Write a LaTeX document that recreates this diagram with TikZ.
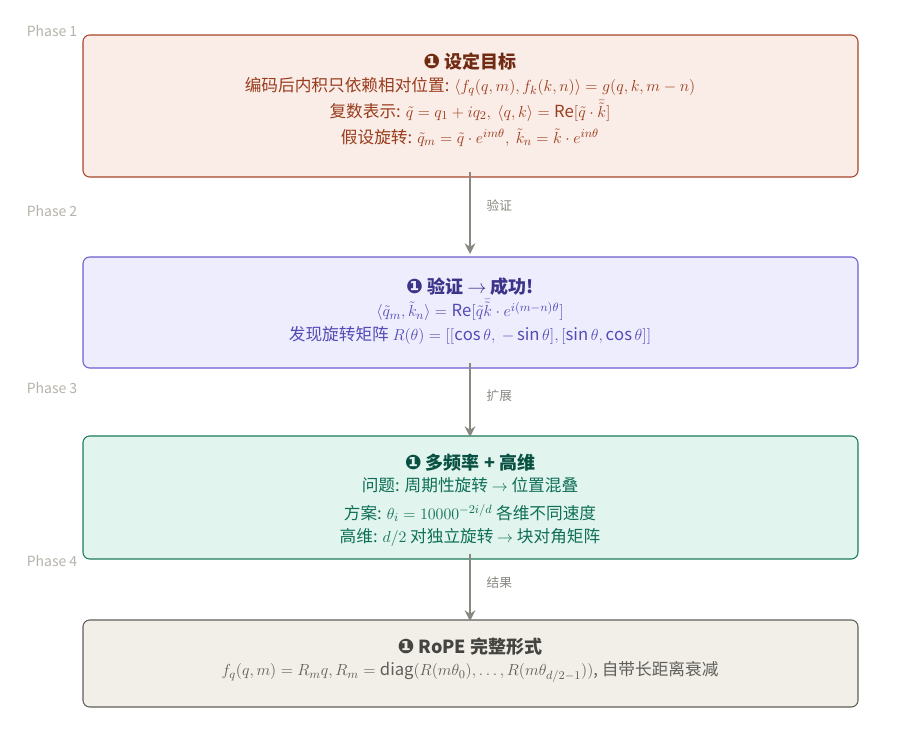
\documentclass[tikz,border=0pt]{standalone}
\usepackage{amsmath}
\usepackage{fontspec}
\setmainfont{Noto Sans CJK SC}
\newfontfamily\symf{DejaVu Sans}
\newcommand{\cnum}{{\symf\fontsize{15}{15}\selectfont ❶}}
\usetikzlibrary{arrows.meta}
\definecolor{aF}{HTML}{FAECE6}\definecolor{aB}{HTML}{A8452A}\definecolor{aT}{HTML}{993C1D}\definecolor{aH}{HTML}{712B13}
\definecolor{bF}{HTML}{EEEDFE}\definecolor{bB}{HTML}{6A5ED0}\definecolor{bT}{HTML}{534AB7}\definecolor{bH}{HTML}{3C3489}
\definecolor{cF}{HTML}{E1F5EE}\definecolor{cB}{HTML}{1D7A58}\definecolor{cT}{HTML}{0F6E56}\definecolor{cH}{HTML}{085041}
\definecolor{dF}{HTML}{F1EFE8}\definecolor{dB}{HTML}{5F5E5A}\definecolor{dT}{HTML}{5F5E5A}\definecolor{dH}{HTML}{444441}
\definecolor{gA}{HTML}{888780}\definecolor{gP}{HTML}{B4B2A9}
\begin{document}
\begin{tikzpicture}[x=0.75pt,y=-0.75pt,
 box/.style={draw,rounded corners=5pt,line width=0.8pt},
 txt/.style={align=center,font=\fontsize{12.5}{19.5}\selectfont},
 ttl/.style={font=\fontsize{13.5}{15}\selectfont\bfseries},
 arr/.style={draw=gA,line width=1.8pt,-{Stealth[length=8pt,width=8pt]}},
 al/.style={text=gA,font=\fontsize{9.5}{11}\selectfont,anchor=west},
 ph/.style={text=gP,font=\fontsize{10.5}{12}\selectfont}]
\useasboundingbox (0,0) rectangle (916,734);
\draw[box,fill=aF,draw=aB] (83,35) rectangle (858,177) node[pos=0.5](b1){};
\draw[box,fill=bF,draw=bB] (83,257) rectangle (858,368) node[pos=0.5](b2){};
\draw[box,fill=cF,draw=cB] (83,436) rectangle (858,559) node[pos=0.5](b3){};
\draw[box,fill=dF,draw=dB] (83,620) rectangle (858,707) node[pos=0.5](b4){};
\node[ph] (p1) at (52,31) {Phase 1};
\node[ph] (p2) at (52,211) {Phase 2};
\node[ph] (p3) at (52,388) {Phase 3};
\node[ph] (p4) at (52,561) {Phase 4};
\node[ttl,text=aH] (t1) at (470,62) {\cnum\ 设定目标};
\node[txt,text=aT] (x1) at (470,112) {编码后内积只依赖相对位置: $\langle f_q(q,m), f_k(k,n)\rangle = g(q,k,m-n)$\\
复数表示: $\tilde q = q_1 + i q_2,\ \langle q,k\rangle = \mathrm{Re}[\tilde q\cdot \bar{\tilde k}]$\\
假设旋转: $\tilde q_m = \tilde q\cdot e^{im\theta},\ \tilde k_n = \tilde k\cdot e^{in\theta}$};
\node[ttl,text=bH] (t2) at (470,287) {\cnum\ 验证 $\rightarrow$ 成功!};
\node[txt,text=bT] (x2) at (470,322) {$\langle \tilde q_m,\tilde k_n\rangle = \mathrm{Re}[\tilde q\bar{\tilde k}\cdot e^{i(m-n)\theta}]$\\[-2pt]
发现旋转矩阵 $R(\theta)=[[\cos\theta,\ -\sin\theta],[\sin\theta,\cos\theta]]$};
\node[ttl,text=cH] (t3) at (470,463) {\cnum\ 多频率 + 高维};
\node[txt,text=cT] (x3) at (470,512) {问题: 周期性旋转 $\rightarrow$ 位置混叠\\[1pt]
方案: $\theta_i = 10000^{-2i/d}$ 各维不同速度\\[-2pt]
高维: $d/2$ 对独立旋转 $\rightarrow$ 块对角矩阵};
\node[ttl,text=dH] (t4) at (470,647) {\cnum\ RoPE 完整形式};
\node[txt,text=dT] (x4) at (470,672) {$f_q(q,m)=R_m q, R_m=\mathrm{diag}(R(m\theta_0),\ldots,R(m\theta_{d/2-1}))$, 自带长距离衰减};
\coordinate (a1) at (470,172); \coordinate (a1e) at (470,254);
\coordinate (a2) at (470,363); \coordinate (a2e) at (470,437);
\coordinate (a3) at (470,554); \coordinate (a3e) at (470,621);
\draw[arr] (a1) -- (a1e);
\draw[arr] (a2) -- (a2e);
\draw[arr] (a3) -- (a3e);
\node[al] (l1) at (482,206) {验证};
\node[al] (l2) at (482,396) {扩展};
\node[al] (l3) at (482,583) {结果};
\end{tikzpicture}
\end{document}
